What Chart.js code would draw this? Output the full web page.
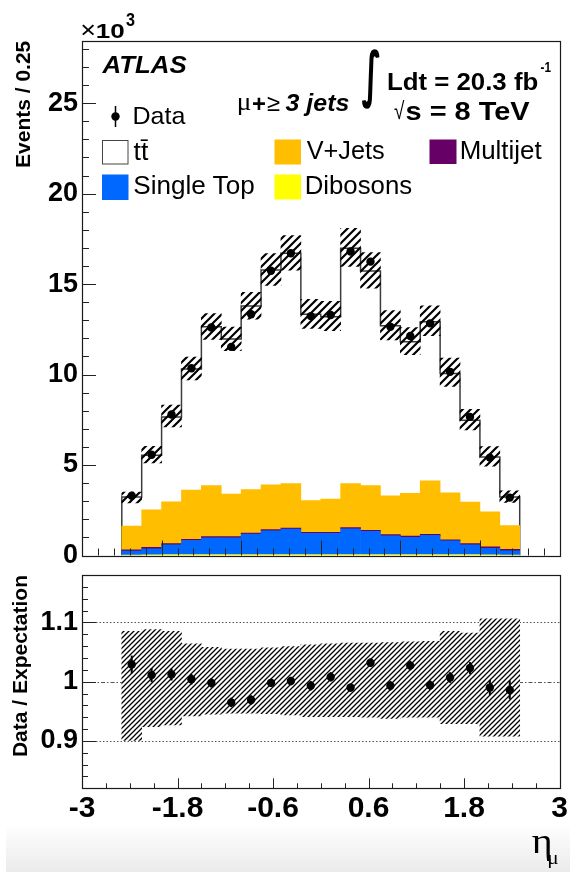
<!DOCTYPE html>
<html><head><meta charset="utf-8">
<script src="https://cdn.jsdelivr.net/npm/chart.js@4.4.1/dist/chart.umd.min.js"></script>
<style>
html,body{margin:0;padding:0;background:#fff;}
#wrap{position:relative;width:570px;height:873px;overflow:hidden;background:#fff;}
canvas{position:absolute;left:0;}
#c1{top:0;}
#c2{top:560px;}
#shade{position:absolute;left:6px;top:823px;width:564px;height:49px;background:linear-gradient(#ffffff,#ebebeb);}
#ov{position:absolute;left:0;top:0;pointer-events:none;}
</style></head><body>
<div id="wrap">
<div id="shade"></div>
<canvas id="c1" width="570" height="570"></canvas>
<canvas id="c2" width="570" height="313"></canvas>
<svg id="ov" width="570" height="873" xmlns="http://www.w3.org/2000/svg"></svg>
</div>
<script>
// ---------- data (events in units of 10^3) ----------
const binEdges = [-2.5,-2.25,-2.0,-1.75,-1.5,-1.25,-1.0,-0.75,-0.5,-0.25,0,0.25,0.5,0.75,1.0,1.25,1.5,1.75,2.0,2.25,2.5];
const dataEvents = [3.30,5.57,7.79,10.35,12.60,11.53,13.33,15.74,16.70,13.23,13.29,16.80,16.24,12.64,12.13,12.83,10.15,7.66,5.41,3.20];
const ttbar      = [1.61,3.01,4.69,6.68,8.78,8.56,10.15,11.87,12.73,10.30,10.08,13.01,11.86,9.40,8.38,8.79,6.59,4.52,3.02,1.57];
const vJets      = [1.30,2.08,2.31,2.73,2.82,2.36,2.40,2.48,2.45,1.75,1.84,2.43,2.47,2.15,2.36,2.96,2.60,2.29,1.94,1.32];
const multijet   = [0.08,0.08,0.07,0.06,0.06,0.06,0.06,0.06,0.06,0.06,0.06,0.06,0.06,0.06,0.06,0.06,0.06,0.07,0.08,0.08];
const singleTop  = [0.21,0.33,0.54,0.78,0.93,0.93,1.13,1.32,1.41,1.17,1.17,1.43,1.28,1.04,0.96,1.06,0.76,0.54,0.36,0.23];
const dibosons   = [0.03,0.04,0.05,0.05,0.05,0.05,0.05,0.05,0.05,0.05,0.05,0.05,0.05,0.05,0.05,0.05,0.05,0.05,0.04,0.03];
const ratio      = [1.029,1.011,1.012,1.004,0.998,0.965,0.969,0.998,1.001,0.993,1.008,0.990,1.032,0.993,1.027,0.994,1.007,1.023,0.990,0.986];
const ratioErr   = [0.015,0.012,0.010,0.009,0.008,0.008,0.008,0.007,0.007,0.008,0.008,0.007,0.007,0.008,0.008,0.008,0.009,0.010,0.013,0.016];
const bandUp     = [1.085,1.088,1.085,1.064,1.058,1.055,1.055,1.057,1.059,1.062,1.064,1.065,1.065,1.066,1.067,1.068,1.085,1.082,1.106,1.106];
const bandDown   = [0.901,0.924,0.927,0.942,0.945,0.947,0.947,0.946,0.944,0.941,0.941,0.941,0.940,0.938,0.940,0.940,0.929,0.929,0.908,0.908];
const yTicksMain  = [0,5,10,15,20,25];
const yTicksRatio = [0.9,1,1.1];
const xTickValues = [-3,-1.8,-0.6,0.6,1.8,3];
const xTickLabels = ['-3','-1.8','-0.6','0.6','1.8','3'];

// ---------- derived ----------
const centers = binEdges.slice(0,-1).map((e,i)=>(e+binEdges[i+1])/2);
const totals = centers.map((_,i)=>dibosons[i]+singleTop[i]+multijet[i]+vJets[i]+ttbar[i]);
const xy = arr => arr.map((v,i)=>({x:centers[i], y:v}));
const outline = [{x:binEdges[0], y:0}]
  .concat(totals.map((t,i)=>({x:binEdges[i], y:t})))
  .concat([{x:binEdges[binEdges.length-1], y:totals[totals.length-1]}, {x:binEdges[binEdges.length-1], y:0}]);
const bandMain = centers.map((c,i)=>({x:c, y:[totals[i]*bandDown[i], totals[i]*bandUp[i]]}));
const bandRatio = centers.map((c,i)=>({x:c, y:[bandDown[i], bandUp[i]]}));

const SANS = '"Liberation Sans", Arial, Helvetica, sans-serif';
const SERIF = '"Liberation Serif", "Times New Roman", serif';
const DEJA = '"DejaVu Sans", sans-serif';

function hatch(ctx, s, lw, bg){
  const c = document.createElement('canvas'); c.width = s; c.height = s;
  const g = c.getContext('2d');
  if (bg){ g.fillStyle = bg; g.fillRect(0,0,s,s); }
  g.strokeStyle = '#000'; g.lineWidth = lw;
  g.beginPath();
  g.moveTo(-1, s+1); g.lineTo(s+1, -1);
  g.moveTo(-s/2-1, s/2+1); g.lineTo(s/2+1, -s/2-1);
  g.moveTo(s/2-1, 1.5*s+1); g.lineTo(1.5*s+1, s/2-1);
  g.stroke();
  return ctx.createPattern(c, 'repeat');
}

function tickPlugin(id, cfg){
  return {
    id: id,
    beforeDatasetsDraw(chart){
      if (!cfg.refLines) return;
      const {ctx, chartArea:a, scales:{y}} = chart;
      ctx.save(); ctx.strokeStyle = '#555'; ctx.lineWidth = 1;
      cfg.refLines.forEach(r=>{
        ctx.setLineDash(r.dash);
        const py = Math.round(y.getPixelForValue(r.v)) + 0.5;
        ctx.beginPath(); ctx.moveTo(a.left, py); ctx.lineTo(a.right, py); ctx.stroke();
      });
      ctx.restore();
    },
    afterDatasetsDraw(chart){
      if (!cfg.errors) return;
      const {ctx, scales:{x, y}} = chart;
      ctx.save(); ctx.strokeStyle = '#000'; ctx.lineWidth = 2;
      cfg.errors.vals.forEach((v,i)=>{
        const px = x.getPixelForValue(centers[i]);
        ctx.beginPath();
        ctx.moveTo(px, y.getPixelForValue(v - cfg.errors.err[i]));
        ctx.lineTo(px, y.getPixelForValue(v + cfg.errors.err[i]));
        ctx.stroke();
      });
      ctx.restore();
    },
    afterDraw(chart){
      const {ctx, chartArea:a, scales:{x, y}} = chart;
      ctx.save();
      ctx.strokeStyle = '#222'; ctx.lineWidth = 1;
      ctx.beginPath();
      cfg.xt.forEach(t=>{
        const px = Math.round(x.getPixelForValue(t.v)) + 0.5;
        ctx.moveTo(px, a.bottom); ctx.lineTo(px, a.bottom - t.len);
      });
      cfg.yt.forEach(t=>{
        const py = Math.round(y.getPixelForValue(t.v)) + 0.5;
        ctx.moveTo(a.left, py); ctx.lineTo(a.left + t.len, py);
      });
      ctx.stroke();
      ctx.lineWidth = 1.2; ctx.strokeStyle = '#1a1a1a';
      ctx.strokeRect(Math.round(a.left)+0.5, Math.round(a.top)+0.5, Math.round(a.right-a.left), Math.round(a.bottom-a.top));
      ctx.restore();
    }
  };
}

// tick mark sets (axis decoration)
const mainXT = [], mainYT = [], ratXT = [], ratYT = [];
for (let k=-15;k<=15;k++) mainXT.push({v:k/5, len: k%5===0 ? 15 : 7});
for (let k=0;k<=28;k++) mainYT.push({v:k, len: k%5===0 ? 14 : 7});
for (let k=-10;k<=10;k++) ratXT.push({v:k*0.3, len: (k+10)%4===0 ? 10 : 5});
for (let k=41;k<=59;k++) ratYT.push({v:k/50, len: k%5===0 ? 14 : 6});

Chart.defaults.font.family = SANS;
Chart.defaults.color = '#000';

const ctx1 = document.getElementById('c1').getContext('2d');
const ctx2 = document.getElementById('c2').getContext('2d');
const patMain = hatch(ctx1, 8, 2.2, null);
const patRatio = hatch(ctx2, 5, 1.3, '#ffffff');

const barCommon = {type:'bar', categoryPercentage:1, barPercentage:1, borderWidth:0};

new Chart(ctx1, {
  type:'bar',
  data:{datasets:[
    Object.assign({label:'Dibosons', data:xy(dibosons), backgroundColor:'#ffff00', stack:'mc', order:4}, barCommon),
    Object.assign({label:'Single Top', data:xy(singleTop), backgroundColor:'#0068ff', stack:'mc', order:4}, barCommon),
    Object.assign({label:'Multijet', data:xy(multijet), backgroundColor:'#660066', stack:'mc', order:4}, barCommon),
    Object.assign({label:'V+Jets', data:xy(vJets), backgroundColor:'#ffbe00', stack:'mc', order:4}, barCommon),
    Object.assign({label:'tt\u0304', data:xy(ttbar), backgroundColor:'#ffffff', stack:'mc', order:6}, barCommon),
    {type:'line', label:'Total', data:outline, stepped:true, borderColor:'#3c3c3c', borderWidth:1.5, pointRadius:0, fill:false, order:5},
    Object.assign({label:'Uncertainty', data:bandMain, backgroundColor:patMain, grouped:false, order:2}, barCommon),
    {type:'scatter', label:'Data', data:xy(dataEvents), pointRadius:4.2, pointBackgroundColor:'#000', pointBorderWidth:0, order:1}
  ]},
  options:{
    responsive:false, animation:false, events:[],
    layout:{padding:{left:0, top:40.7, right:10.5, bottom:14.5}},
    plugins:{legend:{display:false}, tooltip:{enabled:false}, title:{display:false}},
    scales:{
      x:{type:'linear', min:-3, max:3, offset:false, display:false,
         afterBuildTicks:s=>{s.ticks=[-3,-2,-1,0,1,2,3].map(v=>({value:v}));}},
      y:{type:'linear', min:0, max:28.45, offset:false,
         afterBuildTicks:s=>{s.ticks=yTicksMain.map(v=>({value:v}));},
         afterFit:s=>{s.width=82; s.paddingTop=0; s.paddingBottom=0;},
         grid:{display:false, drawTicks:false}, border:{display:false},
         ticks:{color:'#000', padding:4, font:{family:SANS, size:27, weight:'bold'}, callback:v=>String(v)},
         title:{display:true, text:'Events / 0.25', color:'#000', align:'end',
                font:{family:SANS, size:21, weight:'bold'}, padding:{top:11.5, bottom:0}}}
    }
  },
  plugins:[tickPlugin('mainTicks', {xt:mainXT, yt:mainYT})]
});

new Chart(ctx2, {
  type:'bar',
  data:{datasets:[
    Object.assign({label:'Uncertainty', data:bandRatio, backgroundColor:patRatio, grouped:false, order:2}, barCommon),
    {type:'scatter', label:'Data / Expectation', data:xy(ratio), pointRadius:4.2, pointBackgroundColor:'#000', pointBorderWidth:0, order:1}
  ]},
  options:{
    responsive:false, animation:false, events:[],
    layout:{padding:{left:0, top:15, right:10.5, bottom:0}},
    plugins:{legend:{display:false}, tooltip:{enabled:false}},
    scales:{
      x:{type:'linear', min:-3, max:3, offset:false,
         afterBuildTicks:s=>{s.ticks=xTickValues.map(v=>({value:v}));},
         afterFit:s=>{s.height=84.7; s.paddingLeft=0; s.paddingRight=0;},
         grid:{display:false, drawTicks:false}, border:{display:false},
         ticks:{color:'#000', padding:2, autoSkip:false, maxRotation:0, minRotation:0,
                font:{family:SANS, size:30, weight:'bold'}, callback:(v,i)=>xTickLabels[i]}},
      y:{type:'linear', min:0.82, max:1.18, offset:false,
         afterBuildTicks:s=>{s.ticks=yTicksRatio.map(v=>({value:v}));},
         afterFit:s=>{s.width=82; s.paddingTop=0; s.paddingBottom=0;},
         grid:{display:false, drawTicks:false}, border:{display:false},
         ticks:{color:'#000', padding:4, font:{family:SANS, size:27, weight:'bold'}, callback:v=>String(v)},
         title:{display:true, text:'Data / Expectation', color:'#000', align:'end',
                font:{family:SANS, size:21, weight:'bold'}, padding:{top:9, bottom:0}}}
    }
  },
  plugins:[tickPlugin('ratioTicks', {xt:ratXT, yt:ratYT,
    refLines:[{v:1.1, dash:[1.5,2]}, {v:1.0, dash:[4,2,1.5,2]}, {v:0.9, dash:[1.5,2]}],
    errors:{vals:ratio, err:ratioErr}})]
});

// ---------- text overlay (legend & annotations) ----------
const svg = document.getElementById('ov');
const NS = 'http://www.w3.org/2000/svg';
const mc = document.createElement('canvas').getContext('2d');
function label(txt, o){
  const style = o.style || 'normal', weight = o.weight || 'normal', fam = o.family || SANS, size = o.size || 25;
  mc.font = `${style} ${weight} ${size}px ${fam}`;
  const m = mc.measureText(txt);
  const inkL = -m.actualBoundingBoxLeft, inkR = m.actualBoundingBoxRight;
  const sx = (o.xr - o.xl) / (inkR - inkL);
  let sy = 1, base = o.base;
  if (o.top !== undefined){
    sy = (o.bottom - o.top) / (m.actualBoundingBoxAscent + m.actualBoundingBoxDescent);
    base = o.top + m.actualBoundingBoxAscent * sy;
  }
  const tx = o.xl - inkL * sx;
  const t = document.createElementNS(NS, 'text');
  t.setAttribute('transform', `translate(${tx.toFixed(2)},${base.toFixed(2)}) scale(${sx.toFixed(4)},${sy.toFixed(4)})`);
  t.setAttribute('font-family', fam);
  t.setAttribute('font-size', size);
  t.setAttribute('font-weight', weight);
  t.setAttribute('font-style', style);
  t.setAttribute('fill', o.fill || '#000');
  t.textContent = txt;
  svg.appendChild(t);
}
function shape(tag, attrs){
  const e = document.createElementNS(NS, tag);
  for (const k in attrs) e.setAttribute(k, attrs[k]);
  svg.appendChild(e);
}

// x10^3
label('\u00d7', {size:22, xl:81.5, xr:95, top:24, bottom:35.5});
label('10', {size:22, weight:'bold', xl:97, xr:124.5, top:23.5, bottom:37.5});
label('3', {size:18, weight:'bold', xl:126, xr:135, top:12, bottom:25.5});
// ATLAS
label('ATLAS', {size:25, weight:'bold', style:'italic', xl:101.5, xr:187, top:55.5, bottom:72.5});
// channel
label('\u03bc', {family:SERIF, size:24, xl:238, xr:250.5, top:98.5, bottom:115.5});
label('+', {size:22, weight:'bold', xl:252, xr:265, top:97, bottom:110});
label('\u2265', {size:22, xl:267, xr:280, top:95.5, bottom:110.5});
label('3 jets', {size:24, weight:'bold', style:'italic', xl:285.5, xr:349, base:111});
// luminosity
label('\u222b', {family:DEJA, size:60, weight:'bold', xl:361.5, xr:379.5, top:49, bottom:109.5});
label('Ldt = 20.3 fb', {size:25, weight:'bold', xl:388, xr:538, top:71.5, bottom:89.5});
label('-1', {size:16, weight:'bold', xl:540.5, xr:551, top:61, bottom:71.5});
label('\u221a', {size:24, xl:394, xr:405, top:100, bottom:120});
label('s = 8 TeV', {size:25, weight:'bold', xl:405.5, xr:530, top:100.5, bottom:119.5});

// legend
shape('line', {x1:115.5, y1:106, x2:115.5, y2:127, stroke:'#000', 'stroke-width':1.5});
shape('circle', {cx:115.5, cy:116.5, r:4.2, fill:'#000'});
label('Data', {size:25, xl:134.5, xr:185.5, top:106.5, bottom:123.5});
shape('rect', {x:102.5, y:140.5, width:25.5, height:23.5, fill:'#fff', stroke:'#444', 'stroke-width':1});
label('tt\u0304', {size:25, xl:133.5, xr:148.5, base:160});
shape('rect', {x:274.5, y:139.5, width:26.5, height:25, fill:'#ffbe00'});
label('V+Jets', {size:25, xl:306.7, xr:384.3, base:159.3});
shape('rect', {x:429.5, y:139.5, width:27, height:24.5, fill:'#660066'});
label('Multijet', {size:25, xl:461.7, xr:541.7, base:159.3});
shape('rect', {x:102, y:174.5, width:26.5, height:25.5, fill:'#0068ff'});
label('Single Top', {size:25, xl:134.3, xr:254.3, base:194.3});
shape('rect', {x:274.5, y:174.5, width:26.5, height:25, fill:'#ffff00'});
label('Dibosons', {size:25, xl:306.7, xr:411.7, base:194.3});

// x axis title eta_mu
label('\u03b7', {family:SERIF, size:30, xl:531.7, xr:551.7, top:836.7, bottom:860});
label('\u03bc', {family:SERIF, size:17, xl:548.5, xr:558.5, top:855, bottom:868});
</script>
</body></html>
